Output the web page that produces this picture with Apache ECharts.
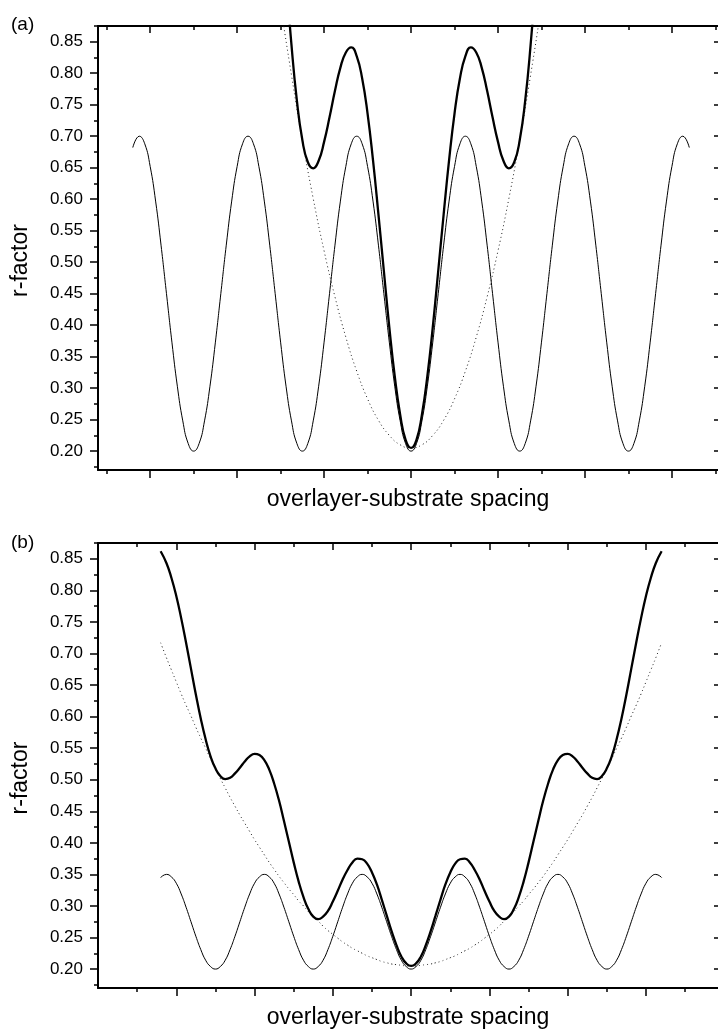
<!DOCTYPE html>
<html>
<head>
<meta charset="utf-8">
<script src="https://cdn.jsdelivr.net/npm/echarts@6/dist/echarts.min.js"></script>
<style>
html,body{margin:0;padding:0;background:#fff;}
#chart{width:718px;height:1034px;}
</style>
</head>
<body>
<div id="chart"></div>
<script>
// ---------- data ----------
const xsFine = [-3.2,
  -3.125, -3.0625, -3, -2.9375, -2.875, -2.8125, -2.75, -2.6875, -2.625, -2.5625, -2.5, -2.4375, -2.375, -2.3125, -2.25, -2.1875, -2.125, -2.0625, -2, -1.9375,
  -1.875, -1.8125, -1.75, -1.6875, -1.625, -1.5625, -1.5, -1.4375, -1.375, -1.3125, -1.25, -1.1875, -1.125, -1.0625, -1, -0.9375, -0.875, -0.8125, -0.75, -0.6875,
  -0.625, -0.5625, -0.5, -0.4375, -0.375, -0.3125, -0.25, -0.1875, -0.125, -0.0625, 0,
  0.0625, 0.125, 0.1875, 0.25, 0.3125, 0.375, 0.4375, 0.5, 0.5625, 0.625, 0.6875, 0.75, 0.8125, 0.875, 0.9375, 1, 1.0625, 1.125, 1.1875, 1.25,
  1.3125, 1.375, 1.4375, 1.5, 1.5625, 1.625, 1.6875, 1.75, 1.8125, 1.875, 1.9375, 2, 2.0625, 2.125, 2.1875, 2.25, 2.3125, 2.375, 2.4375, 2.5,
  2.5625, 2.625, 2.6875, 2.75, 2.8125, 2.875, 2.9375, 3, 3.0625, 3.125,
  3.2];

const sineA = [0.682,
  0.700, 0.688, 0.652, 0.597, 0.527, 0.450, 0.373, 0.303, 0.248, 0.212, 0.200, 0.212, 0.248, 0.303, 0.373, 0.450, 0.527, 0.597, 0.652, 0.688,
  0.700, 0.688, 0.652, 0.597, 0.527, 0.450, 0.373, 0.303, 0.248, 0.212, 0.200, 0.212, 0.248, 0.303, 0.373, 0.450, 0.527, 0.597, 0.652, 0.688,
  0.700, 0.688, 0.652, 0.597, 0.527, 0.450, 0.373, 0.303, 0.248, 0.212, 0.200,
  0.212, 0.248, 0.303, 0.373, 0.450, 0.527, 0.597, 0.652, 0.688, 0.700, 0.688, 0.652, 0.597, 0.527, 0.450, 0.373, 0.303, 0.248, 0.212, 0.200,
  0.212, 0.248, 0.303, 0.373, 0.450, 0.527, 0.597, 0.652, 0.688, 0.700, 0.688, 0.652, 0.597, 0.527, 0.450, 0.373, 0.303, 0.248, 0.212, 0.200,
  0.212, 0.248, 0.303, 0.373, 0.450, 0.527, 0.597, 0.652, 0.688, 0.700,
  0.682];

const xsParaA = [-1.625, -1.5, -1.375, -1.25, -1.125, -1, -0.875, -0.75, -0.625, -0.5, -0.375, -0.25, -0.125, 0, 0.125, 0.25, 0.375, 0.5, 0.625, 0.75, 0.875, 1, 1.125, 1.25, 1.375, 1.5, 1.625];
const paraA = [1.032, 0.909, 0.797, 0.694, 0.601, 0.518, 0.445, 0.381, 0.327, 0.283, 0.249, 0.225, 0.210, 0.205, 0.210, 0.225, 0.249, 0.283, 0.327, 0.381, 0.445, 0.518, 0.601, 0.694, 0.797, 0.909, 1.032];

const xsThickA = [-1.5, -1.4375, -1.375, -1.3125, -1.25, -1.1875, -1.125, -1.0625, -1, -0.9375, -0.875, -0.8125, -0.75, -0.6875, -0.625, -0.5625, -0.5, -0.4375, -0.375, -0.3125, -0.25, -0.1875, -0.125, -0.0625, 0,
  0.0625, 0.125, 0.1875, 0.25, 0.3125, 0.375, 0.4375, 0.5, 0.5625, 0.625, 0.6875, 0.75, 0.8125, 0.875, 0.9375, 1, 1.0625, 1.125, 1.1875, 1.25, 1.3125, 1.375, 1.4375, 1.5];
const thickA = [1.082, 0.955, 0.845, 0.756, 0.694, 0.659, 0.649, 0.661, 0.691, 0.730, 0.772, 0.809, 0.833, 0.841, 0.827, 0.792, 0.736, 0.662, 0.576, 0.486, 0.397, 0.319, 0.258, 0.218, 0.205,
  0.218, 0.258, 0.319, 0.397, 0.486, 0.576, 0.662, 0.736, 0.792, 0.827, 0.841, 0.833, 0.809, 0.772, 0.730, 0.691, 0.661, 0.649, 0.659, 0.694, 0.756, 0.845, 0.955, 1.082];

const sineB = [0.345,
  0.350, 0.346, 0.336, 0.319, 0.298, 0.275, 0.252, 0.231, 0.214, 0.204, 0.200, 0.204, 0.214, 0.231, 0.252, 0.275, 0.298, 0.319, 0.336, 0.346,
  0.350, 0.346, 0.336, 0.319, 0.298, 0.275, 0.252, 0.231, 0.214, 0.204, 0.200, 0.204, 0.214, 0.231, 0.252, 0.275, 0.298, 0.319, 0.336, 0.346,
  0.350, 0.346, 0.336, 0.319, 0.298, 0.275, 0.252, 0.231, 0.214, 0.204, 0.200,
  0.204, 0.214, 0.231, 0.252, 0.275, 0.298, 0.319, 0.336, 0.346, 0.350, 0.346, 0.336, 0.319, 0.298, 0.275, 0.252, 0.231, 0.214, 0.204, 0.200,
  0.204, 0.214, 0.231, 0.252, 0.275, 0.298, 0.319, 0.336, 0.346, 0.350, 0.346, 0.336, 0.319, 0.298, 0.275, 0.252, 0.231, 0.214, 0.204, 0.200,
  0.204, 0.214, 0.231, 0.252, 0.275, 0.298, 0.319, 0.336, 0.346, 0.350,
  0.345];

const paraB = [0.717,
  0.693, 0.674, 0.655, 0.636, 0.618, 0.601, 0.583, 0.566, 0.550, 0.533, 0.518, 0.502, 0.487, 0.472, 0.458, 0.444, 0.431, 0.418, 0.405, 0.393,
  0.381, 0.369, 0.358, 0.347, 0.337, 0.327, 0.318, 0.308, 0.300, 0.291, 0.283, 0.276, 0.268, 0.261, 0.255, 0.249, 0.243, 0.238, 0.233, 0.229,
  0.225, 0.221, 0.218, 0.215, 0.212, 0.210, 0.208, 0.207, 0.206, 0.205, 0.205,
  0.205, 0.206, 0.207, 0.208, 0.210, 0.212, 0.215, 0.218, 0.221, 0.225, 0.229, 0.233, 0.238, 0.243, 0.249, 0.255, 0.261, 0.268, 0.276, 0.283,
  0.291, 0.300, 0.308, 0.318, 0.327, 0.337, 0.347, 0.358, 0.369, 0.381, 0.393, 0.405, 0.418, 0.431, 0.444, 0.458, 0.472, 0.487, 0.502, 0.518,
  0.533, 0.550, 0.566, 0.583, 0.601, 0.618, 0.636, 0.655, 0.674, 0.693,
  0.717];

const thickB = [0.862,
  0.843, 0.820, 0.791, 0.756, 0.717, 0.676, 0.635, 0.597, 0.564, 0.537, 0.518, 0.506, 0.501, 0.503, 0.510, 0.519, 0.529, 0.537, 0.541, 0.539,
  0.531, 0.516, 0.494, 0.467, 0.435, 0.402, 0.369, 0.339, 0.314, 0.295, 0.283, 0.279, 0.283, 0.292, 0.307, 0.324, 0.342, 0.357, 0.369, 0.375,
  0.374, 0.367, 0.353, 0.334, 0.310, 0.285, 0.260, 0.238, 0.220, 0.209, 0.205,
  0.209, 0.220, 0.238, 0.260, 0.285, 0.310, 0.334, 0.353, 0.367, 0.374, 0.375, 0.369, 0.357, 0.342, 0.324, 0.307, 0.292, 0.283, 0.279, 0.283,
  0.295, 0.314, 0.339, 0.369, 0.402, 0.435, 0.467, 0.494, 0.516, 0.531, 0.539, 0.541, 0.537, 0.529, 0.519, 0.510, 0.503, 0.501, 0.506, 0.518,
  0.537, 0.564, 0.597, 0.635, 0.676, 0.717, 0.756, 0.791, 0.820, 0.843,
  0.862];

const yMajorTicks = [0.20, 0.25, 0.30, 0.35, 0.40, 0.45, 0.50, 0.55, 0.60, 0.65, 0.70, 0.75, 0.80, 0.85];
const yMinorTicks = [0.175, 0.225, 0.275, 0.325, 0.375, 0.425, 0.475, 0.525, 0.575, 0.625, 0.675, 0.725, 0.775, 0.825, 0.875];
const xMajorTicks = [-3, -2, -1, 0, 1, 2, 3];
const xMinorTicks = [-3.5, -2.5, -1.5, -0.5, 0.5, 1.5, 2.5, 3.5];

const panelLabels = ['(a)', '(b)'];
const xTitle = 'overlayer-substrate spacing';
const yTitle = 'r-factor';

// ---------- chart ----------
const FONT = '"Liberation Sans", Arial, Helvetica, sans-serif';
const pair = (xs, ys) => xs.map((x, i) => [x, ys[i]]);

function xAxes(g, min, max) {
  const base = {gridIndex: g, type: 'value', min: min, max: max, splitLine: {show: false}, axisLabel: {show: false}};
  const line = {show: true, onZero: false, lineStyle: {color: '#000', width: 2}};
  return [
    Object.assign({}, base, {position: 'bottom', axisLine: line,
      axisTick: {show: true, inside: false, length: 8, customValues: xMajorTicks, lineStyle: {color: '#000', width: 1.5}},
      name: xTitle, nameLocation: 'middle', nameGap: 18,
      nameTextStyle: {fontFamily: FONT, fontSize: 23, color: '#000'}}),
    Object.assign({}, base, {position: 'bottom', axisLine: {show: false, onZero: false},
      axisTick: {show: true, inside: false, length: 4, customValues: xMinorTicks, lineStyle: {color: '#000', width: 1.5}}}),
    Object.assign({}, base, {position: 'top', axisLine: line,
      axisTick: {show: true, inside: true, length: 7, customValues: xMajorTicks, lineStyle: {color: '#000', width: 1.5}}}),
    Object.assign({}, base, {position: 'top', axisLine: {show: false, onZero: false},
      axisTick: {show: true, inside: true, length: 4, customValues: xMinorTicks, lineStyle: {color: '#000', width: 1.5}}})
  ];
}

function yAxes(g) {
  const base = {gridIndex: g, type: 'value', min: 0.17, max: 0.875, splitLine: {show: false}};
  return [
    Object.assign({}, base, {position: 'left',
      axisLine: {show: true, onZero: false, lineStyle: {color: '#000', width: 2}},
      axisTick: {show: true, inside: false, length: 8, customValues: yMajorTicks, lineStyle: {color: '#000', width: 1.5}},
      axisLabel: {show: true, customValues: yMajorTicks, margin: 15, fontFamily: FONT, fontSize: 17, color: '#000',
        formatter: v => Number(v).toFixed(2)},
      name: yTitle, nameLocation: 'middle', nameGap: 66, nameRotate: 90,
      nameTextStyle: {fontFamily: FONT, fontSize: 23, color: '#000', padding: [0, 25, 0, 0]}}),
    Object.assign({}, base, {position: 'left', axisLine: {show: false, onZero: false},
      axisTick: {show: true, inside: false, length: 4, customValues: yMinorTicks, lineStyle: {color: '#000', width: 1.5}},
      axisLabel: {show: false}}),
    Object.assign({}, base, {position: 'right', axisLine: {show: false, onZero: false},
      axisTick: {show: true, inside: true, length: 4, customValues: yMajorTicks, lineStyle: {color: '#000', width: 1.5}},
      axisLabel: {show: false}})
  ];
}

function lineSeries(xi, yi, data, kind) {
  const s = {type: 'line', xAxisIndex: xi, yAxisIndex: yi, data: data, showSymbol: false, symbol: 'none',
    smooth: true, clip: true, silent: true, animation: false};
  if (kind === 'dot') s.lineStyle = {color: '#222', width: 1, type: [1, 3]};
  else if (kind === 'thin') s.lineStyle = {color: '#000', width: 1};
  else s.lineStyle = {color: '#000', width: 2.3};
  return s;
}

const chart = echarts.init(document.getElementById('chart'), null, {renderer: 'canvas'});
chart.setOption({
  backgroundColor: '#fff',
  animation: false,
  grid: [
    {left: 98, right: 0, top: 26, height: 444},
    {left: 98, right: 0, top: 543, height: 445}
  ],
  xAxis: [].concat(xAxes(0, -3.6, 3.53), xAxes(1, -4, 3.92)),
  yAxis: [].concat(yAxes(0), yAxes(1)),
  graphic: [
    {type: 'text', left: 11, top: 15, style: {text: panelLabels[0], font: '19px ' + FONT, fill: '#000'}},
    {type: 'text', left: 11, top: 533, style: {text: panelLabels[1], font: '19px ' + FONT, fill: '#000'}}
  ],
  series: [
    lineSeries(0, 0, pair(xsParaA, paraA), 'dot'),
    lineSeries(0, 0, pair(xsFine, sineA), 'thin'),
    lineSeries(0, 0, pair(xsThickA, thickA), 'thick'),
    lineSeries(4, 3, pair(xsFine, paraB), 'dot'),
    lineSeries(4, 3, pair(xsFine, sineB), 'thin'),
    lineSeries(4, 3, pair(xsFine, thickB), 'thick')
  ]
});
</script>
</body>
</html>
